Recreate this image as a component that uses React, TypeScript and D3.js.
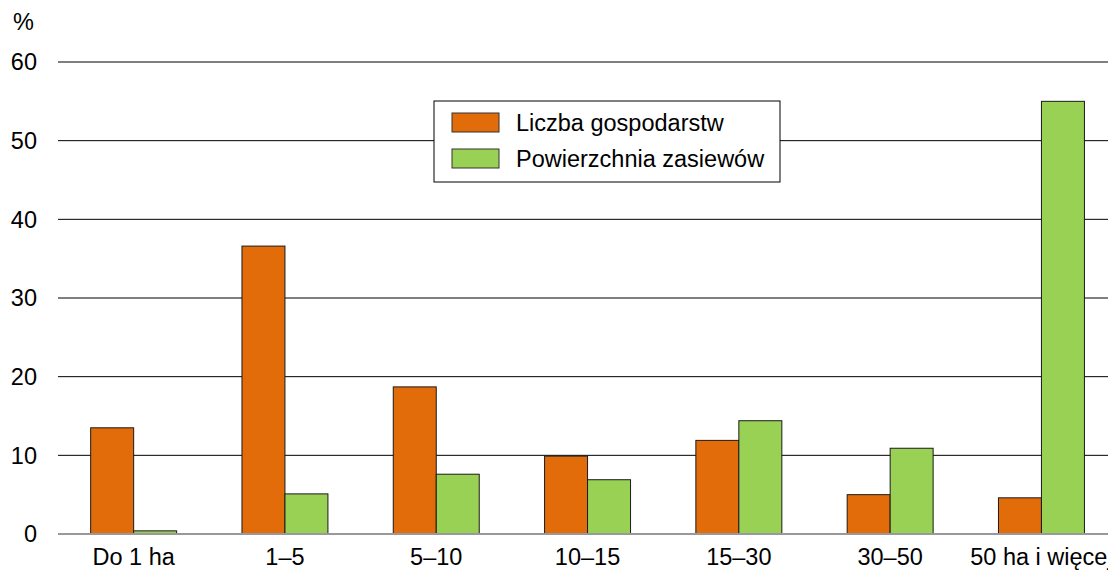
import React from "react"
import * as d3 from "d3"

const categories = ["Do 1 ha", "1–5", "5–10", "10–15", "15–30", "30–50", "50 ha i więcej"]
const seriesNames = ["Liczba gospodarstw", "Powierzchnia zasiewów"]
const liczba = [13.5, 36.6, 18.7, 9.9, 11.9, 5.0, 4.6]
const powierzchnia = [0.4, 5.1, 7.6, 6.9, 14.4, 10.9, 55.0]
const yTicks = [0, 10, 20, 30, 40, 50, 60]
const colors = ["#e36c0a", "#99d155"]

const W = 1108
const H = 576
const left = 58
const font = "'Liberation Sans', Arial, sans-serif"
const fs = 23.5

export default function App() {
  const x = d3.scaleBand<string>().domain(categories).range([left, left + 7 * 151.3]).paddingInner(0).paddingOuter(0)
  const sub = d3.scaleBand<number>().domain([0, 1]).range([0, x.bandwidth()]).paddingInner(0).paddingOuter(0.76)
  const y = d3.scaleLinear().domain([0, 60]).range([534, 62])
  const series = [liczba, powierzchnia]

  return (
    <svg width={W} height={H} style={{ position: "absolute", left: 0, top: 0, fontFamily: font }}>
      <rect width={W} height={H} fill="#fff" />
      <text x={13} y={30} fontSize={fs} fill="#000">%</text>
      {yTicks.map((t) => (
        <g key={t}>
          {t > 0 && <line x1={left} x2={W} y1={y(t)} y2={y(t)} stroke="#000" strokeWidth={1} />}
          <text x={37} y={y(t)} dy="0.36em" textAnchor="end" fontSize={fs} fill="#000">{t}</text>
        </g>
      ))}
      {categories.map((c, i) => (
        <g key={c}>
          {series.map((s, j) => (
            <rect
              key={j}
              x={(x(c) || 0) + (sub(j) || 0)}
              y={y(s[i])}
              width={sub.bandwidth()}
              height={y(0) - y(s[i])}
              fill={colors[j]}
              stroke="#1a1a1a"
              strokeWidth={1}
            />
          ))}
          <text x={(x(c) || 0) + x.bandwidth() / 2} y={565} textAnchor="middle" fontSize={fs} fill="#000">{c}</text>
        </g>
      ))}
      <line x1={left} x2={W} y1={y(0)} y2={y(0)} stroke="#999" strokeWidth={2} />
      <g transform="translate(434,101)">
        <rect width={346} height={81} fill="#fff" stroke="#000" strokeWidth={1} />
        {seriesNames.map((n, i) => (
          <g key={n} transform={`translate(0,${i * 36})`}>
            <rect x={18} y={12} width={47} height={19} fill={colors[i]} stroke="#333" strokeWidth={1} />
            <text x={82} y={22} dy="0.36em" fontSize={fs} fill="#000">{n}</text>
          </g>
        ))}
      </g>
    </svg>
  )
}
